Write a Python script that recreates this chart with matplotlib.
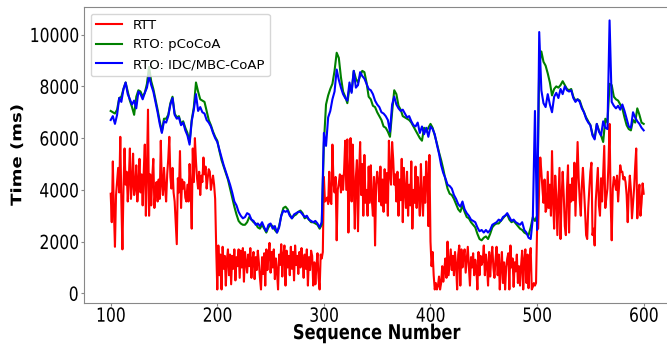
import matplotlib
matplotlib.use("Agg")
import matplotlib.pyplot as plt
import numpy as np
from matplotlib.patheffects import AbstractPathEffect
from matplotlib.transforms import Affine2D

# measured round-trip times, one per sequence number (100..600)
rtt_ms = [
    3850, 2750, 5100, 3200, 1800, 3800, 4300, 4850, 3900, 6050,
    3550, 1700, 4050, 5600, 4200, 4700, 3550, 4400, 5600, 3650,
    4200, 5400, 3800, 4050, 4950, 3550, 4300, 5200, 3900, 4600,
    3400, 4700, 5750, 3000, 4800, 7100, 3000, 4600, 3400, 4500,
    5200, 3300, 4000, 4300, 3550, 4400, 3650, 5900, 4200, 3800,
    4850, 4100, 3550, 4600, 5200, 6050, 4500, 4050, 4850, 3900,
    3550, 2700, 1900, 4450, 3900, 5500, 3300, 4400, 4050, 4300,
    3700, 3550, 4200, 3550, 5000, 4100, 2500, 5600, 4300, 6000,
    5100, 4450, 4050, 4700, 3800, 4550, 4300, 5250, 4600, 4900,
    4050, 4450, 4800, 4700, 4000, 4300, 4550, 4200, 3650, 1700,
    150, 1850, 700, 1500, 150, 1800, 950, 1450, 300, 1300,
    1700, 700, 1500, 350, 1450, 950, 1700, 500, 1400, 1050,
    1700, 600, 1650, 1000, 1750, 450, 1600, 1200, 800, 1500,
    1050, 1750, 600, 1300, 1600, 550, 1400, 900, 1650, 1200,
    600, 150, 1400, 750, 1550, 300, 1700, 900, 1500, 1950,
    800, 1600, 1000, 1700, 550, 1350, 850, 150, 1500, 1100,
    1900, 650, 1500, 1850, 300, 1650, 1000, 1450, 700, 1800,
    950, 1600, 500, 1850, 1100, 1450, 750, 1600, 1000, 1750,
    1300, 600, 1500, 950, 1700, 300, 1400, 900, 1650, 1450,
    300, 1200, 350, 1050, 1550, 600, 150, 1500, 1350, 1600,
    4500, 3550, 3600, 3700, 3450, 4700, 3550, 3450, 5750, 4300,
    3900, 4500, 2050, 4000, 4250, 4600, 3900, 4550, 4000, 4800,
    5900, 4000, 5950, 2350, 4600, 6000, 3550, 5750, 4300, 2500,
    4500, 5150, 2400, 4600, 5850, 3800, 5000, 3000, 5350, 3500,
    4000, 3000, 4900, 3500, 4950, 3600, 3000, 4500, 1850, 4200,
    4700, 4350, 3550, 4900, 3400, 4400, 3150, 4800, 3500, 4650,
    3000, 5900, 4600, 4200, 5850, 5200, 4200, 4600, 3550, 4700,
    3000, 4400, 3600, 5200, 2750, 4850, 4000, 3300, 4700, 3000,
    4200, 3400, 5100, 2500, 4000, 3500, 4900, 3300, 4500, 3800,
    3000, 5000, 3700, 3000, 4500, 3500, 5100, 4400, 2600, 5350,
    2000, 1050, 1600, 700, 150, 400, 150, 300, 650, 150,
    400, 1050, 450, 950, 1350, 600, 2000, 700, 1200, 1700,
    900, 1450, 700, 1600, 1100, 150, 1500, 1850, 300, 1700,
    1000, 1450, 1700, 800, 1300, 1800, 1050, 300, 1400, 1000,
    1550, 700, 1300, 1000, 150, 1600, 700, 1450, 1100, 1250,
    1850, 700, 1500, 1100, 300, 1600, 650, 1400, 1800, 1000,
    600, 1300, 1800, 700, 1500, 150, 1050, 1600, 400, 1200,
    150, 1000, 1350, 1550, 150, 1850, 1000, 1350, 250, 1200,
    850, 1500, 400, 1050, 300, 1100, 1650, 150, 1300, 1700,
    400, 1500, 200, 1400, 1750, 150, 250, 400, 300, 400,
    2500, 2500, 4200, 5250, 4700, 4050, 3500, 4400, 3150, 3300,
    4700, 3300, 4200, 3000, 5500, 3600, 2500, 4550, 3800, 2250,
    3600, 4850, 2100, 3700, 4700, 3800, 2600, 2250, 4000, 4950,
    2350, 4200, 3550, 4450, 3600, 5050, 3000, 4400, 5850, 4450,
    3600, 3000, 4200, 4850, 4050, 3200, 2250, 2100, 3300, 4050,
    4700, 5050, 2250, 2500, 1850, 3550, 4200, 4850, 3400, 3000,
    4450, 3550, 4600, 5700, 3300, 3700, 4050, 5000, 6550, 3550,
    2050, 4050, 4500, 4300, 4000, 4550, 3550, 4200, 4950, 4700,
    4700, 4400, 4500, 4300, 3800, 2750, 3900, 4550, 4000, 2900,
    3500, 4050, 4900, 5600, 2900, 3800, 4200, 3000, 3500, 4250,
    3850,
]

# retransmission timeouts, every second sequence number (100, 102, .., 600)
rto_pcocoa_ms = [
    7050, 7000, 6950, 7100, 7550, 7600, 7900, 8150, 7800, 7450,
    7200, 6900, 7600, 7850, 7800, 7600, 7750, 8100, 8750, 8200,
    7900, 7500, 7100, 6650, 6250, 6750, 6750, 6900, 7350, 7600,
    6950, 6800, 6850, 6550, 6650, 6400, 6200, 5850, 6700, 7200,
    8150, 7800, 7500, 7450, 7400, 7050, 6700, 6500, 6250, 6050,
    5900, 5500, 5150, 4900, 4650, 4400, 4050, 3700, 3350, 3050,
    2800, 2700, 2650, 2650, 2750, 2950, 2850, 2750, 2700, 2550,
    2500, 2650, 2500, 2350, 2550, 2650, 2600, 2450, 2350, 2600,
    3000, 3300, 3350, 3250, 3050, 2900, 3000, 3050, 3150, 3200,
    3100, 2900, 2950, 2850, 2750, 2750, 2700, 2650, 2500, 2650,
    5800, 7300, 7650, 7900, 8100, 8600, 9300, 9100, 8350, 7800,
    7600, 7350, 7950, 7800, 8600, 8300, 8150, 8400, 8600, 8550,
    8150, 7600, 7500, 7250, 7200, 7000, 6850, 6700, 6450, 6400,
    6250, 6050, 7000, 7850, 7700, 7250, 7100, 6850, 6800, 6750,
    6700, 6600, 6450, 6300, 6150, 6000, 5900, 6400, 6250, 6400,
    6550, 6400, 6100, 5800, 5450, 5150, 4800, 4400, 4050, 3850,
    3800, 3650, 3450, 3250, 3150, 3400, 3150, 2950, 2900, 2750,
    2650, 2550, 2300, 2100, 2050, 2150, 2200, 2100, 2300, 2550,
    2650, 2700, 2700, 2800, 2900, 3000, 3050, 2850, 2750, 2800,
    2700, 2600, 2500, 2450, 2350, 2300, 2250, 2550, 2950, 2800,
    3000, 8800, 9350, 8950, 8800, 8500, 8150, 7650, 7900, 8000,
    7950, 8050, 8200, 8050, 7900, 7850, 7900, 7600, 7450, 7500,
    7450, 7200, 7000, 6800, 6650, 6500, 6150, 6000, 6550, 6300,
    6100, 5850, 6750, 6600, 8100, 8050, 7600, 7500, 7450, 7300,
    7150, 6800, 6500, 6350, 6300, 6700, 6600, 7150, 6900, 6600,
    6550,
]

rto_idc_ms = [
    6700, 6850, 6550, 6900, 7550, 7400, 7900, 8150, 7700, 7500,
    7300, 7450, 7150, 7800, 7700, 7500, 7750, 7950, 8400, 8050,
    7800, 7400, 7000, 6550, 6200, 6650, 6600, 6850, 7300, 7550,
    6900, 6750, 6800, 6500, 6600, 6300, 6100, 5750, 6650, 7100,
    7700, 7050, 7200, 7000, 6950, 6700, 6600, 6450, 6200, 6000,
    5850, 5550, 5250, 4950, 4700, 4450, 4200, 3900, 3550, 3400,
    3150, 3000, 2900, 2950, 3100, 3050, 2850, 2800, 2650, 2700,
    2600, 2750, 2550, 2400, 2650, 2700, 2500, 2600, 2350, 2550,
    3000, 3200, 3150, 3200, 3000, 2900, 3050, 3100, 3150, 3150,
    3050, 2950, 3000, 2850, 2800, 2750, 2800, 2700, 2550, 2750,
    6200, 5700, 6800, 7050, 7500, 7800, 8650, 8250, 7950, 7700,
    7550, 7450, 8150, 7750, 8600, 7950, 8050, 8550, 8400, 8300,
    8100, 7900, 7850, 7700, 7450, 7300, 7200, 7000, 6950, 6850,
    6700, 6250, 7300, 7600, 7300, 7150, 7050, 7100, 6950, 6800,
    6850, 6650, 6500, 6450, 6600, 6200, 6450, 6150, 6400, 6050,
    6450, 6350, 6150, 5750, 5400, 4950, 4650, 4450, 4200, 4150,
    4050, 3800, 3650, 3450, 3350, 3550, 3250, 3100, 3000, 2850,
    2800, 2750, 2550, 2400, 2450, 2350, 2450, 2350, 2450, 2650,
    2700, 2750, 2850, 2800, 2950, 3000, 3100, 2950, 2800, 2850,
    2750, 2700, 2650, 2750, 2450, 2350, 2150, 2100, 2900, 7050,
    2450, 10100, 7850, 7350, 7200, 7700, 7300, 7000, 7600, 7750,
    7550, 7900, 7700, 8000, 7850, 7800, 7850, 7550, 7400, 7500,
    7400, 7150, 7000, 6750, 6600, 6500, 6100, 5950, 6550, 6250,
    6100, 6650, 6400, 6350, 10550, 7400, 7250, 7150, 7250, 7100,
    7300, 7050, 6750, 6450, 6400, 7000, 6800, 6650, 6550, 6400,
    6300,
]

series_labels = ["RTT", "RTO: pCoCoA", "RTO: IDC/MBC-CoAP"]
x_ticks = [100, 200, 300, 400, 500, 600]
y_ticks = [0, 2000, 4000, 6000, 8000, 10000]


class GlyphScale(AbstractPathEffect):
    """Stretch text glyphs along one of their own axes, pinned at an anchor."""

    def __init__(self, factor=1.25, axis="y", anchor="center"):
        super().__init__()
        self.factor = factor
        self.axis = axis
        self.anchor = anchor

    def draw_path(self, renderer, gc, tpath, affine, rgbFace=None):
        ext = tpath.get_extents()
        lo, hi = (ext.x0, ext.x1) if self.axis == "x" else (ext.y0, ext.y1)
        ref = {"low": lo, "center": 0.5 * (lo + hi), "high": hi}[self.anchor]
        if self.axis == "x":
            stretch = Affine2D().translate(-ref, 0).scale(self.factor, 1).translate(ref, 0)
        else:
            stretch = Affine2D().translate(0, -ref).scale(1, self.factor).translate(0, ref)
        renderer.draw_path(gc, tpath, stretch + affine, rgbFace)


def plot_rtt_rto(filename: str = "out.png"):
    fig = plt.figure(figsize=(6.67, 3.47), dpi=100)
    ax = fig.add_axes([0.126, 0.127, 0.879, 0.853])

    seq = np.arange(100, 100 + len(rtt_ms))
    seq_rto = np.arange(100, 100 + 2 * len(rto_pcocoa_ms), 2)

    ax.plot(seq, rtt_ms, color="red", lw=1.5, label=series_labels[0])
    ax.plot(seq_rto, rto_pcocoa_ms, color="green", lw=1.5, label=series_labels[1])
    ax.plot(seq_rto, rto_idc_ms, color="blue", lw=1.5, label=series_labels[2])

    ax.set_xticks(x_ticks)
    ax.set_yticks(y_ticks)
    ax.tick_params(labelsize=11.2, color="#888888", length=2.5)
    ax.tick_params(axis="x", pad=0.3)
    ax.tick_params(axis="y", pad=1.5)
    for lbl in ax.get_xticklabels():
        lbl.set_path_effects([GlyphScale(1.25, "y", "high")])
    for lbl in ax.get_yticklabels():
        lbl.set_path_effects([GlyphScale(1.25, "y", "center")])

    ax.set_xlabel("Sequence Number", fontsize=11.7, fontweight="bold", va="top",
                  path_effects=[GlyphScale(1.25, "y", "high")])
    ax.xaxis.set_label_coords(0.5, -0.071)
    ax.set_ylabel("Time (ms)", fontsize=10.4, fontweight="bold", va="center",
                  path_effects=[GlyphScale(1.25, "x", "center")])
    ax.yaxis.set_label_coords(-0.114, 0.5)

    for spine in ax.spines.values():
        spine.set_color("#888888")

    ax.legend(loc="upper left", fontsize=9.5)

    fig.savefig(filename, dpi=100)


if __name__ == "__main__":
    plot_rtt_rto()
